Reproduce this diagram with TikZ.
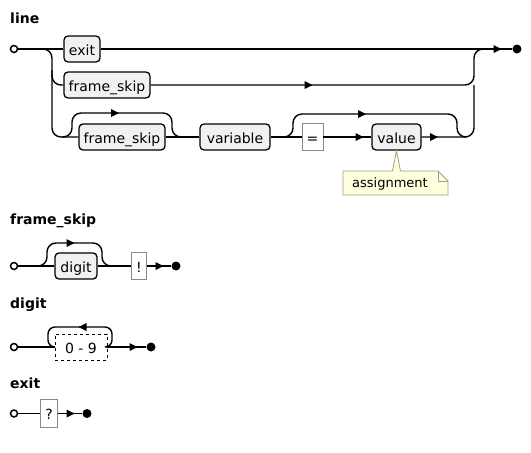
\documentclass[tikz,border=0pt]{standalone}
\usepackage{fontspec}
\setmainfont{DejaVu Sans}
\usepackage{tikz}
\usetikzlibrary{positioning}
\definecolor{boxgray}{HTML}{F1F1F1}
\definecolor{termgray}{HTML}{888888}
\definecolor{notefill}{HTML}{FEFFDD}
\definecolor{noteline}{HTML}{A0A088}
\newcommand{\railfont}{\fontsize{14}{16}\selectfont}
\newcommand{\notefont}{\fontsize{13}{15}\selectfont}
\newcommand{\headfont}{\fontsize{14}{16}\selectfont\bfseries}

\begin{document}
\begin{tikzpicture}[
  x=1pt, y=-1pt,
  rail/.style={line width=1.4pt, rounded corners=9pt},
  nonterm/.style={draw, line width=1.3pt, rounded corners=4pt, fill=boxgray,
    minimum height=26pt, inner sep=0pt, text height=12pt, text depth=0pt, font=\railfont},
  terminal/.style={draw=termgray, line width=0.8pt, fill=white,
    minimum height=27pt, inner sep=0pt, text height=12pt, text depth=0pt, font=\railfont},
  charset/.style={draw, dashed, line width=0.9pt, fill=white,
    minimum height=26pt, inner sep=0pt, text height=12pt, text depth=0pt, font=\railfont},
  railstart/.style={circle, draw, line width=1.5pt, fill=white, minimum size=7pt, inner sep=0pt},
  railend/.style={circle, fill=black, minimum size=9pt, inner sep=0pt},
  rtitle/.style={anchor=base west, inner sep=0pt, font=\headfont},
  notebox/.style={draw=noteline, fill=notefill, line width=0.8pt},
  fwd/.pic={\fill (-4.5pt,-4pt) -- (3.5pt,0pt) -- (-4.5pt,4pt) -- cycle;}
]
  \useasboundingbox (0,0) rectangle (531,453);

  % line
  \node[rtitle] (tline) at (10,23) {line};
  \node[railstart] (s1) at (14,49) {};
  \node[nonterm, minimum width=36pt] (exitref) at (82,49) {exit};
  \node[nonterm, minimum width=86pt] (fsa) at (107,85) {frame\_skip};
  \node[nonterm, minimum width=86pt] (fsb) at (122,137) {frame\_skip};
  \node[nonterm, minimum width=70pt] (var) at (235,137) {variable};
  \node[terminal, minimum width=21pt] (eq) at (312.5,137) {=};
  \node[nonterm, minimum width=49pt] (val) at (396.5,137) {value};
  \node[railend] (e1) at (517,49) {};
  \coordinate (lsplit) at (40,49);
  \coordinate (ljoin) at (474,49);

  \draw[rail] (s1.east) -- (exitref.west);
  \draw[rail] (exitref.east) -- (e1.west);
  \pic at (498,49) {fwd};
  \draw[rail] (lsplit) -- (52,49) -- (52,137) -- (fsb.west);
  \draw[rail] (52,70) -- (52,85) -- (fsa.west);
  \draw[rail] (fsa.east) -- (ljoin |- fsa) -- (ljoin) -- (e1.west);
  \pic at (309,85) {fwd};
  \draw[rail] (62,137) -- (72,137) -- (72,113) -- (172,113) -- (172,137) -- (182,137);
  \pic at (115.5,113) {fwd};
  \draw[rail] (fsb.east) -- (var.west);
  \draw[rail] (var.east) -- (eq.west);
  \draw[rail] (eq.east) -- (val.west);
  \pic at (360,137) {fwd};
  \draw[rail] (val.east) -- (ljoin |- val) -- (ljoin |- fsa);
  \pic at (434.5,137) {fwd};
  \draw[rail] (283,137) -- (293,137) -- (293,114) -- (457,114) -- (457,137) -- (467,137);
  \pic at (362.5,114) {fwd};

  % note on value
  \draw[notebox] (343,171) -- (392.5,171) -- (val.south) -- (400.5,171) -- (438,171)
    -- (448,181) -- (448,195) -- (343,195) -- cycle;
  \draw[notebox, fill=none] (438,171) -- (438,181) -- (448,181);
  \node[font=\notefont, anchor=base, inner sep=0pt] (asg) at (390,187) {assignment};

  % frame_skip
  \node[rtitle] (tfs) at (10,224) {frame\_skip};
  \node[railstart] (s2) at (14,266) {};
  \node[nonterm, minimum width=42pt] (dig) at (76,266) {digit};
  \node[terminal, minimum width=15pt] (bang) at (139,266) {!};
  \node[railend] (e2) at (176,266) {};
  \draw[rail] (s2.east) -- (dig.west);
  \draw[rail] (dig.east) -- (bang.west);
  \draw[rail] (37,266) -- (47,266) -- (47,243) -- (102,243) -- (102,266) -- (112,266);
  \pic at (71,243) {fwd};
  \draw[rail] (bang.east) -- (e2.west);
  \pic at (160,266) {fwd};

  % digit
  \node[rtitle] (tdig) at (10,308) {digit};
  \node[railstart] (s3) at (14,347) {};
  \node[charset, minimum width=52pt] (rng) at (81,347) {0 - 9};
  \node[railend] (e3) at (151,347) {};
  \draw[rail] (s3.east) -- (rng.west);
  \draw[rail] (rng.east) -- (e3.west);
  \pic at (134,347) {fwd};
  \draw[rail, rounded corners=7pt] (rng.east) -- (112,347) -- (112,327) -- (48,327) -- (48,347) -- (rng.west);
  \pic[rotate=180] at (82,327) {fwd};

  % exit
  \node[rtitle] (texit) at (10,388) {exit};
  \node[railstart] (s4) at (14,413.5) {};
  \node[terminal, minimum width=16.5pt, minimum height=28pt] (qm) at (49,413.5) {?};
  \node[railend] (e4) at (87,413.5) {};
  \draw[rail] (s4.east) -- (qm.west);
  \draw[rail] (qm.east) -- (e4.west);
  \pic at (71,413.5) {fwd};
\end{tikzpicture}
\end{document}
